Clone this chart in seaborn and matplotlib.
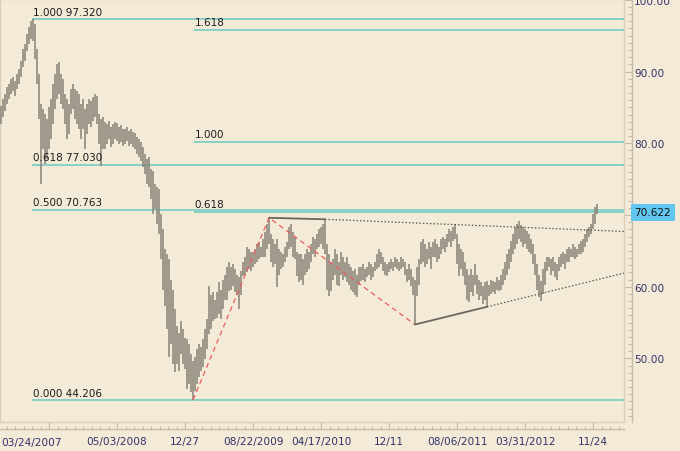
import numpy as np
import pandas as pd
import seaborn as sns
import matplotlib
matplotlib.use("Agg")
import matplotlib.pyplot as plt
from matplotlib.ticker import FixedLocator, MultipleLocator, NullFormatter
import matplotlib.transforms as mtransforms
from matplotlib.patches import Rectangle

# ---------------- data (weekly bars) ----------------
highs = [
    85.2, 86.1, 86.8, 87.8, 88.2, 88.9, 89.2, 88.7, 89.6, 90.3, 91.4, 93.1, 93.8, 95.2, 96.2, 97.0, 97.32,
    96.6, 93.1, 89.6, 85.5, 84.8, 84.1, 83.4, 85.0, 86.1, 88.2, 89.6, 91.0, 91.3, 89.6, 88.9, 86.8, 86.1,
    85.5, 87.5, 88.2, 87.5, 87.3, 86.8, 85.5, 86.1, 84.8, 85.5, 86.1, 85.9, 86.4, 86.8, 86.6, 84.1, 83.4, 83.6,
    83.0, 82.7, 83.1, 82.2, 82.7, 83.0, 82.8, 82.2, 82.5, 82.0, 82.0, 82.2, 81.7, 82.0, 81.5, 81.4, 80.9,
    80.6, 80.2, 79.5, 78.5, 77.8, 78.1, 76.4, 76.1, 74.3, 73.9, 73.6, 70.1, 68.0, 65.2, 64.5, 63.8, 61.0,
    59.6, 56.9, 54.5, 53.6, 55.2, 54.1, 52.9, 52.7, 52.0, 50.6, 49.6, 50.2, 51.3, 52.0, 51.6, 52.7, 54.1, 55.5,
    60.1, 58.9, 59.2, 58.2, 59.2, 60.6, 59.6, 61.0, 61.7, 62.8, 63.4, 62.7, 63.1, 62.4, 61.7, 61.3, 62.2,
    63.5, 64.1, 65.6, 65.2, 64.9, 64.8, 65.2, 65.9, 66.2, 65.6, 66.6, 67.6, 68.7, 69.61, 67.3, 66.6, 65.9,
    66.6, 65.2, 64.9, 64.5, 65.5, 66.2, 68.3, 68.7, 67.6, 66.9, 64.8, 64.5, 64.5,
    63.8, 64.5, 65.2, 64.8, 65.9, 66.9, 66.6, 67.3, 68.0, 68.3, 68.7, 69.4, 65.9, 64.5, 63.5, 63.8, 65.2,
    64.5, 63.5, 64.8, 64.2, 63.5, 64.1, 63.1, 62.7, 62.2, 62.4, 61.7, 62.7, 62.7, 63.1, 62.4, 62.8, 63.4,
    63.1, 62.7, 63.5, 64.5, 65.2, 64.9, 64.1, 63.5, 63.1, 63.5, 63.8, 63.5, 64.1, 63.8, 63.5, 64.1, 63.8,
    63.5, 62.4, 63.1, 62.4, 61.4, 61.0,
    62.7, 63.8, 66.2, 66.6, 65.9, 65.2, 66.2, 65.5, 66.2, 66.6, 65.9, 65.5, 66.6, 67.0, 66.6, 67.3, 68.0,
    67.7, 68.3, 68.7, 67.3, 65.9, 65.2, 64.8, 63.5, 62.4, 61.7, 62.4, 61.7, 63.1, 61.7, 61.0, 60.6, 60.1,
    60.6, 60.8, 60.3, 61.0, 60.8, 60.6, 61.3, 61.0, 61.7,
    62.4, 63.5, 64.5, 65.2, 66.4, 67.3, 68.3, 68.7, 69.1, 68.6, 68.3, 68.0, 67.7, 67.3, 66.6, 65.9, 64.5,
    63.1, 61.7, 60.8, 62.4, 63.5, 64.1, 64.1, 63.8, 64.1, 63.5, 63.1, 64.1, 64.5, 64.9, 64.5, 65.2, 65.5,
    65.2, 65.9, 65.5, 65.2, 65.9, 66.4, 66.6, 67.3, 68.0, 68.3, 68.7, 70.1, 71.1, 71.6,
]
lows = [
    82.7, 83.6, 84.5, 85.5, 86.1, 86.8, 87.3, 86.6, 87.5, 88.2, 89.2, 90.6, 91.5, 92.8, 93.8, 94.5, 94.2,
    91.7, 88.2, 83.4, 74.3, 79.2, 77.1, 77.8, 79.2, 80.6, 82.7, 84.8, 86.1, 86.8, 85.5, 84.8, 82.7, 80.6,
    81.3, 84.1, 84.8, 83.4, 82.7, 82.0, 80.6, 82.0, 79.2, 81.3, 82.7, 82.2, 83.1, 83.6, 82.7, 79.9, 76.8, 79.2,
    79.2, 79.9, 80.6, 79.5, 79.9, 80.6, 80.3, 79.9, 80.2, 79.6, 79.9, 80.3, 79.6, 79.9, 79.5, 79.2, 78.5,
    78.1, 77.5, 76.7, 75.7, 74.3, 73.9, 72.2, 70.1, 70.8, 68.7, 67.3, 63.8, 59.6, 57.3, 54.1, 50.2, 52.0,
    49.2, 48.1, 49.2, 48.2, 50.6, 49.2, 48.5, 45.7, 46.4, 45.3, 44.206, 45.4, 46.4, 47.4, 48.2, 48.8, 49.9, 51.3,
    53.4, 54.1, 55.2, 55.5, 55.7, 56.2, 55.5, 56.9, 58.2, 58.2, 59.4, 59.6, 60.1, 59.2, 58.9, 56.9, 58.9,
    61.5, 61.7, 62.0, 62.4, 62.2, 62.7, 63.1, 63.5, 63.8, 64.1, 64.1, 64.2, 65.2, 65.9, 63.5, 62.7, 63.1,
    59.9, 61.7, 62.4, 62.7, 63.4, 64.1, 65.2, 65.5, 64.2, 63.8, 61.5, 60.6, 61.0,
    60.3, 61.7, 62.0, 62.4, 63.5, 64.5, 64.2, 65.2, 65.5, 65.9, 65.2, 64.5, 59.6, 58.7, 59.4, 61.0, 61.7,
    60.3, 60.1, 61.7, 61.0, 61.3, 60.6, 60.3, 59.6, 59.2, 58.8, 58.5, 60.3, 60.8, 61.0, 60.6, 61.3, 61.7,
    61.0, 61.3, 62.2, 62.4, 62.7, 63.1, 62.2, 61.7, 61.5, 62.0, 62.4, 62.2, 62.7, 62.4, 62.2, 62.4, 62.7,
    61.7, 60.6, 61.0, 60.1, 58.9, 54.73,
    58.7, 60.3, 63.1, 63.5, 62.8, 63.1, 63.8, 62.4, 64.1, 64.2, 63.5, 63.8, 64.5, 65.2, 64.8, 65.5, 66.2,
    65.6, 66.4, 66.6, 63.1, 61.5, 62.4, 61.5, 60.3, 58.2, 57.8, 59.2, 58.7, 60.3, 59.0, 58.2, 58.7, 57.6,
    58.2, 57.2, 58.7, 59.0, 59.2, 59.0, 59.6, 59.4, 59.6,
    60.3, 61.0, 61.7, 62.4, 63.5, 64.5, 65.2, 65.9, 66.6, 66.2, 65.5, 65.9, 65.2, 64.8, 64.5, 63.1, 61.7,
    59.6, 58.5, 58.0, 59.0, 60.3, 62.2, 62.7, 61.7, 62.2, 61.3, 61.0, 62.2, 62.7, 63.1, 62.4, 63.5, 63.5,
    64.1, 64.2, 63.8, 64.1, 64.5, 64.5, 64.9, 65.5, 66.2, 66.9, 67.3, 68.0, 68.7, 70.1,
]
assert len(highs) == len(lows)
last_price = 70.622

retr_levels = [97.320, 77.030, 70.763, 44.206]
retr_labels = ["1.000 97.320", "0.618 77.030", "0.500 70.763", "0.000 44.206"]
ext_levels = [95.83, 80.13, 70.43]
ext_labels = ["1.618", "1.000", "0.618"]

date_ticks = [24, 58, 92, 126, 160, 194, 228, 262, 296]
date_labels = ["03/24/2007", "05/03/2008", "12/27", "08/22/2009", "04/17/2010",
               "12/11", "08/06/2011", "03/31/2012", "11/24"]

# pattern lines: (bar index, price)
abc_bar = [96, 134, 207]
abc_price = [44.206, 69.61, 54.73]
top_bar = [134, 162]
top_price = [69.61, 69.4]
top_ext_bar = [162, 311.5]
top_ext_price = [69.4, 67.7]
low_bar = [207, 243]
low_price = [54.73, 57.2]
low_ext_bar = [243, 311.5]
low_ext_price = [57.2, 61.9]

# ---------------- styling ----------------
BG = "#f3ead8"
TEAL = "#6cc8c0"
TICKC = "#c4bba8"
LBL = "#33336a"

sns.set_theme(style="ticks", rc={"axes.facecolor": BG, "figure.facecolor": BG})
plt.rcParams["font.family"] = ["DejaVu Sans"]

W, H = 680, 452
fig = plt.figure(figsize=(W / 100, H / 100), dpi=100)
ax = fig.add_axes([0, 1 - 423 / H, 624 / W, 423 / H])
ax.set_facecolor(BG)
ax.set_xlim(-0.5, 311.5)
ax.set_ylim(41.14, 100.11)

df = pd.DataFrame({"bar": np.arange(len(highs)), "high": highs, "low": lows})

# price bars
ax.vlines(df["bar"], df["low"], df["high"], color="#8b867b", lw=1.15, zorder=3)

# fib retracement lines
for lv, lb in zip(retr_levels, retr_labels):
    ax.hlines(lv, 15.5, 311.5, color=TEAL, lw=1.1, zorder=2)
    ax.annotate(lb, (15.5, lv), xytext=(0.5, 1.6), textcoords="offset points",
                ha="left", va="bottom", fontsize=7.5, color="#1c1c1c", zorder=5)
for lv, lb in zip(ext_levels, ext_labels):
    ax.hlines(lv, 96.5, 311.5, color=TEAL, lw=1.1, zorder=2)
    ax.annotate(lb, (96.5, lv), xytext=(0.5, 2.2), textcoords="offset points",
                ha="left", va="bottom", fontsize=7.5, color="#1c1c1c", zorder=5)

# ABC red dashed path
abc = pd.DataFrame({"bar": abc_bar, "price": abc_price})
sns.lineplot(data=abc, x="bar", y="price", ax=ax, color="#ee5b5b", lw=0.9,
             linestyle=(0, (4, 3)), sort=False, zorder=4)

# triangle lines
ax.plot(top_bar, top_price, color="#6b675e", lw=1.3, zorder=4)
ax.plot(top_ext_bar, top_ext_price, color="#5a5650", lw=0.9, ls=(0, (1.2, 1.6)), zorder=4)
ax.plot(low_bar, low_price, color="#6b675e", lw=1.3, zorder=4)
ax.plot(low_ext_bar, low_ext_price, color="#5a5650", lw=0.9, ls=(0, (1.2, 1.6)), zorder=4)

ax.set_xlabel("")
ax.set_ylabel("")

# plot frame
ax.add_patch(Rectangle((0, 0), 1, 1, transform=ax.transAxes, fill=False,
                       edgecolor="#d9d0bc", lw=1.0, clip_on=False, zorder=1))

# axes / spines
for s in ["top", "left"]:
    ax.spines[s].set_visible(False)
ax.spines["right"].set_visible(True)
ax.spines["right"].set_position(("outward", 5.8))
ax.spines["bottom"].set_position(("outward", 5.0))
for s in ["right", "bottom"]:
    ax.spines[s].set_color(TICKC)
    ax.spines[s].set_linewidth(1.0)

ax.yaxis.tick_right()
ax.yaxis.set_major_locator(FixedLocator([50, 60, 70, 80, 90, 100]))
ax.yaxis.set_minor_locator(MultipleLocator(1.0))
ax.set_yticklabels(["50.00", "60.00", "70.00", "80.00", "90.00", "100.00"])
ax.tick_params(axis="y", which="major", direction="in", length=5.8, width=0.8,
               color=TICKC, labelsize=7.6, labelcolor=LBL, pad=1.5)
ax.tick_params(axis="y", which="minor", direction="in", length=2.8, width=0.8, color=TICKC)

ax.xaxis.set_major_locator(FixedLocator(date_ticks))
ax.set_xticklabels([""] + date_labels[1:])
ax.xaxis.set_minor_locator(FixedLocator(np.arange(-10, 312, 4.25)))
ax.xaxis.set_minor_formatter(NullFormatter())
ax.tick_params(axis="x", which="major", direction="in", length=5.0, width=0.8,
               color=TICKC, labelsize=7.6, labelcolor=LBL, pad=5.0)
ax.tick_params(axis="x", which="minor", direction="in", length=2.2, width=0.8, color=TICKC)

# first (clipped) date label
trans_x = mtransforms.blended_transform_factory(ax.transData, ax.transAxes)
ax.text(15, -(443.5 - 423) / 423, date_labels[0], transform=trans_x, ha="center",
        va="center", fontsize=7.6, color=LBL, clip_on=False)

# last-price marker (covers the 70.00 tick label as in the reference)
trans_y = mtransforms.blended_transform_factory(ax.transAxes, ax.transData)
ax.text(634.5 / 624, last_price - 0.25, f"{last_price:.3f}", transform=trans_y, ha="left",
        va="center", fontsize=7.6, color="#101010", clip_on=False, zorder=10,
        bbox=dict(boxstyle="square,pad=0.32", facecolor="#62c6f0", edgecolor="none"))

fig.savefig("out.png", dpi=100, facecolor=BG)
